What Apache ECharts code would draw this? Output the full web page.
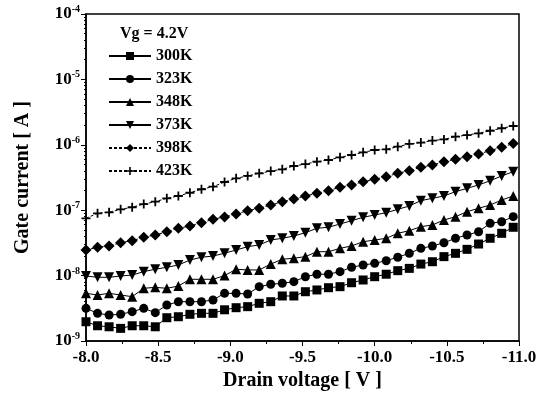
<!DOCTYPE html>
<html>
<head>
<meta charset="utf-8">
<script src="https://cdn.jsdelivr.net/npm/echarts@6/dist/echarts.min.js"></script>
<style>
  html, body { margin: 0; padding: 0; background: #fff; }
  #main { width: 544px; height: 396px; }
</style>
</head>
<body>
<div id="main"></div>
<script>
// drain voltage points (V)
var drainV = [-8.00, -8.08, -8.16, -8.24, -8.32, -8.40, -8.48, -8.56, -8.64, -8.72,
  -8.80, -8.88, -8.96, -9.04, -9.12, -9.20, -9.28, -9.36, -9.44, -9.52,
  -9.60, -9.68, -9.76, -9.84, -9.92, -10.00, -10.08, -10.16, -10.24, -10.32,
  -10.40, -10.48, -10.56, -10.64, -10.72, -10.80, -10.88, -10.96]

// gate current (A), one list per temperature
var ig300 = [1.97e-9, 1.71e-9, 1.65e-9, 1.56e-9, 1.71e-9, 1.71e-9, 1.65e-9, 2.27e-9, 2.35e-9, 2.56e-9,
  2.65e-9, 2.65e-9, 3.0e-9, 3.23e-9, 3.35e-9, 3.77e-9, 3.99e-9, 4.88e-9, 4.88e-9, 5.67e-9,
  6.03e-9, 6.53e-9, 6.77e-9, 7.78e-9, 8.57e-9, 9.62e-9, 1.05e-8, 1.19e-8, 1.29e-8, 1.50e-8,
  1.63e-8, 1.95e-8, 2.19e-8, 2.52e-8, 3.04e-8, 3.72e-8, 4.43e-8, 5.48e-8]
var ig323 = [3.16e-9, 2.65e-9, 2.50e-9, 2.56e-9, 2.81e-9, 3.16e-9, 2.71e-9, 3.55e-9, 3.99e-9, 3.99e-9,
  3.99e-9, 4.24e-9, 5.36e-9, 5.36e-9, 5.23e-9, 6.77e-9, 7.36e-9, 7.63e-9, 8.07e-9, 9.62e-9,
  1.05e-8, 1.05e-8, 1.15e-8, 1.34e-8, 1.45e-8, 1.54e-8, 1.69e-8, 1.91e-8, 2.19e-8, 2.61e-8,
  2.84e-8, 3.18e-8, 3.72e-8, 4.18e-8, 4.69e-8, 6.3e-8, 6.67e-8, 7.96e-8]
var ig348 = [5.36e-9, 5.05e-9, 5.36e-9, 5.05e-9, 4.76e-9, 6.39e-9, 6.62e-9, 6.39e-9, 6.93e-9, 8.78e-9,
  8.78e-9, 8.78e-9, 1.0e-8, 1.25e-8, 1.22e-8, 1.22e-8, 1.50e-8, 1.78e-8, 1.84e-8, 1.95e-8,
  2.32e-8, 2.32e-8, 2.61e-8, 2.84e-8, 3.30e-8, 3.50e-8, 3.72e-8, 4.43e-8, 4.86e-8, 5.60e-8,
  5.94e-8, 7.08e-8, 7.96e-8, 9.48e-8, 1.07e-7, 1.20e-7, 1.43e-7, 1.65e-7]
var ig373 = [9.86e-9, 9.42e-9, 9.42e-9, 9.86e-9, 1.02e-8, 1.15e-8, 1.25e-8, 1.34e-8, 1.45e-8, 1.73e-8,
  1.91e-8, 1.99e-8, 2.2e-8, 2.46e-8, 2.77e-8, 2.94e-8, 3.50e-8, 3.72e-8, 4.03e-8, 4.53e-8,
  5.29e-8, 5.48e-8, 6.15e-8, 6.91e-8, 7.79e-8, 8.45e-8, 9.16e-8, 1.03e-7, 1.16e-7, 1.40e-7,
  1.52e-7, 1.65e-7, 1.92e-7, 2.16e-7, 2.43e-7, 2.82e-7, 3.34e-7, 3.88e-7]
var ig398 = [2.46e-8, 2.71e-8, 2.84e-8, 3.18e-8, 3.42e-8, 3.85e-8, 4.18e-8, 4.69e-8, 5.29e-8, 5.73e-8,
  6.44e-8, 7.26e-8, 7.9e-8, 8.75e-8, 9.83e-8, 1.07e-7, 1.20e-7, 1.35e-7, 1.48e-7, 1.65e-7,
  1.81e-7, 1.99e-7, 2.24e-7, 2.43e-7, 2.73e-7, 2.97e-7, 3.25e-7, 3.66e-7, 4.02e-7, 4.53e-7,
  4.91e-7, 5.52e-7, 6.0e-7, 6.58e-7, 7.23e-7, 8.13e-7, 9.16e-7, 1.05e-6]
var ig423 = [7.52e-8, 8.97e-8, 9.29e-8, 1.03e-7, 1.11e-7, 1.24e-7, 1.35e-7, 1.52e-7, 1.65e-7, 1.85e-7,
  2.09e-7, 2.29e-7, 2.7e-7, 3.07e-7, 3.34e-7, 3.66e-7, 3.97e-7, 4.22e-7, 4.74e-7, 5.08e-7,
  5.52e-7, 5.86e-7, 6.44e-7, 6.98e-7, 7.67e-7, 8.32e-7, 8.53e-7, 9.35e-7, 1.03e-6, 1.08e-6,
  1.16e-6, 1.21e-6, 1.33e-6, 1.41e-6, 1.50e-6, 1.64e-6, 1.79e-6, 1.94e-6]

var tempNames = ['300K', '323K', '348K', '373K', '398K', '423K']
var xRange = [-8.0, -11.0]
var yRange = [1e-9, 1e-4]

var FONT = '"Liberation Serif", "DejaVu Serif", serif'
var PLUS = 'path://M4,0H6V4H10V6H6V10H4V6H0V4H4Z'

function pairs(ys) {
  return drainV.map(function(x, i) { return [x, ys[i]] })
}

function makeSeries(name, ys, symbol, size, rotate, dashed) {
  return {
    name: name,
    type: 'line',
    data: pairs(ys),
    symbol: symbol,
    symbolSize: size,
    symbolRotate: rotate || 0,
    showAllSymbol: true,
    color: '#000',
    itemStyle: { color: '#000' },
    lineStyle: { color: '#000', width: 1, type: dashed ? [3, 2] : 'solid' },
    animation: false
  }
}

var chart = echarts.init(document.getElementById('main'))

chart.setOption({
  backgroundColor: '#fff',
  title: {
    text: 'Vg = 4.2V',
    left: 115,
    top: 21,
    textStyle: { fontFamily: FONT, fontWeight: 'bold', fontSize: 16, color: '#000' }
  },
  legend: {
    orient: 'vertical',
    left: 103,
    top: 43,
    itemWidth: 42,
    itemHeight: 10,
    itemGap: 7,
    data: tempNames,
    textStyle: { fontFamily: FONT, fontWeight: 'bold', fontSize: 16, color: '#000' }
  },
  grid: {
    left: 86,
    right: 25,
    top: 14,
    bottom: 55,
    containLabel: false,
    outerBoundsMode: 'none', // keep the plot box where it is
    show: true,
    borderColor: '#000',
    borderWidth: 1.5
  },
  xAxis: {
    type: 'value',
    inverse: true,
    min: xRange[1],
    max: xRange[0],
    interval: 0.5,
    name: 'Drain voltage [ V ]',
    nameLocation: 'middle',
    nameGap: 30,
    nameTextStyle: { fontFamily: FONT, fontWeight: 'bold', fontSize: 20, color: '#000' },
    axisLine: { lineStyle: { color: '#000', width: 1.5 } },
    axisTick: { inside: false, length: 5, lineStyle: { color: '#000' } },
    minorTick: { show: true, splitNumber: 2, length: 3, lineStyle: { color: '#000' } },
    splitLine: { show: false },
    axisLabel: {
      margin: 8,
      fontFamily: FONT, fontWeight: 'bold', fontSize: 17, color: '#000',
      formatter: function(v) { return v.toFixed(1) }
    }
  },
  yAxis: {
    type: 'log',
    logBase: 10,
    min: yRange[0],
    max: yRange[1],
    name: 'Gate current [ A ]',
    nameLocation: 'middle',
    nameGap: 53,
    nameTextStyle: { fontFamily: FONT, fontWeight: 'bold', fontSize: 20, color: '#000' },
    axisLine: { lineStyle: { color: '#000', width: 1.5 } },
    axisTick: { inside: false, length: 5, lineStyle: { color: '#000' } },
    minorTick: { show: true, splitNumber: 9, length: 2, lineStyle: { color: '#000' } },
    splitLine: { show: false },
    axisLabel: {
      margin: 6,
      formatter: function(v) {
        var e = Math.round(Math.log10(v))
        return '{b|10}{s|' + e + '}'
      },
      rich: {
        b: { fontFamily: FONT, fontWeight: 'bold', fontSize: 17, color: '#000' },
        s: { fontFamily: FONT, fontWeight: 'bold', fontSize: 10, color: '#000', verticalAlign: 'top', padding: [0, 0, 9, 0] }
      }
    }
  },
  series: [
    makeSeries('300K', ig300, 'rect', 9),
    makeSeries('323K', ig323, 'circle', 9),
    makeSeries('348K', ig348, 'triangle', 10),
    makeSeries('373K', ig373, 'triangle', 10, 180),
    makeSeries('398K', ig398, 'diamond', 11, 0, true),
    makeSeries('423K', ig423, PLUS, 9, 0, true)
  ]
})
</script>
</body>
</html>
